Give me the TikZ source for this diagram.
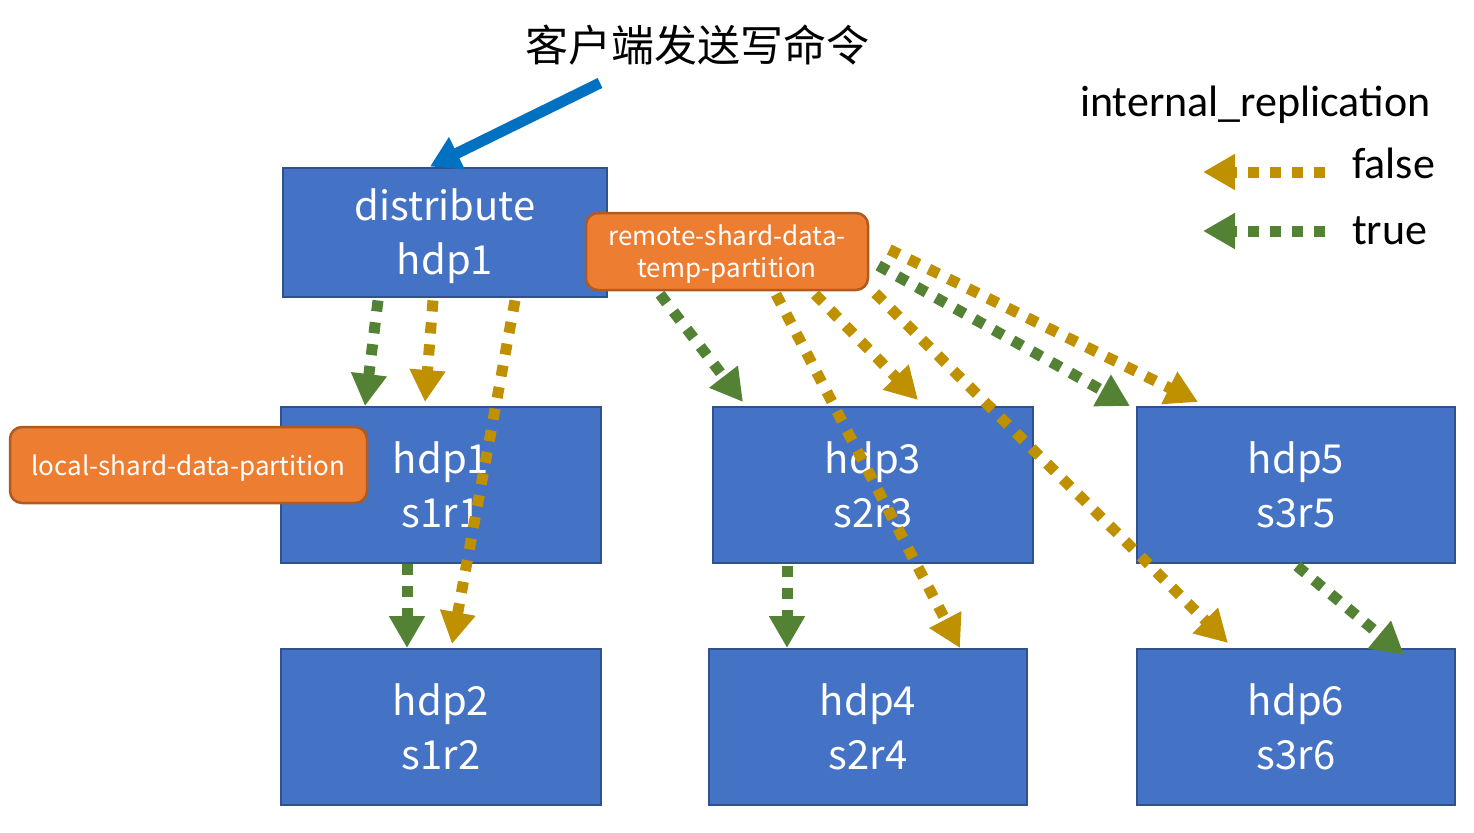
\documentclass[tikz,border=0pt]{standalone}
\usepackage{fontspec}
\setmainfont{Carlito}
\newfontfamily\cjk{Noto Sans CJK SC}
\usetikzlibrary{arrows.meta}
\definecolor{boxblue}{HTML}{4472C4}
\definecolor{boxedge}{HTML}{2F528F}
\definecolor{tagorange}{HTML}{ED7D31}
\definecolor{tagedge}{HTML}{AE5A21}
\definecolor{gold}{HTML}{BF9000}
\definecolor{leaf}{HTML}{548235}
\definecolor{cmdblue}{HTML}{0070C0}

\begin{document}
\begin{tikzpicture}[x=1pt,y=-1pt,
    host/.style={draw=boxedge,line width=2pt,fill=boxblue,text=white,align=center,
                 minimum width=320pt,minimum height=156pt,text depth=0pt,
                 font=\cjk\fontsize{40}{54}\selectfont},
    tag/.style={draw=tagedge,line width=2.5pt,fill=tagorange,text=white,align=center,
                rounded corners=12pt,text depth=0pt,font=\cjk\fontsize{26}{32}\selectfont},
    legend/.style={font=\fontsize{44}{50}\selectfont,inner sep=0pt},
    rep/.style={-{Triangle[length=32pt,width=34pt]},line width=11pt,
                dash pattern=on 11pt off 11pt},
    tr/.style={rep,leaf},
    fl/.style={rep,gold},
    cmdarr/.style={-{Triangle[length=30pt,width=34pt]},line width=11pt,cmdblue}]
    \useasboundingbox (0,0) rectangle (1474,832);

    \node[font=\cjk\fontsize{43}{50}\selectfont] (cmd) at (697,45) {客户端发送写命令};
    \coordinate (cmdfrom) at (600,83);

    \node[host,minimum width=324pt,minimum height=129pt] (dist) at (445,232) {distribute\\hdp1};
    \node[host] (s11) at (441,485) {hdp1\\s1r1};
    \node[host] (s12) at (441,727) {hdp2\\s1r2};
    \node[host] (s23) at (873,485) {hdp3\\s2r3};
    \node[host,minimum width=318pt] (s24) at (868,727) {hdp4\\s2r4};
    \node[host,minimum width=318pt] (s35) at (1296,485) {hdp5\\s3r5};
    \node[host,minimum width=318pt] (s36) at (1296,727) {hdp6\\s3r6};

    \node[tag,minimum width=282pt,minimum height=77pt] (remote) at (727,251.5) {remote-shard-data-\\temp-partition};
    \node[tag,minimum width=357pt,minimum height=76pt] (local) at (188.5,465) {local-shard-data-partition};

    \node[legend,anchor=west] (intrep) at (1080,105) {internal\_replication};
    \node[legend,anchor=west] (lgf) at (1352,163) {false};
    \node[legend,anchor=west] (lgt) at (1352,231) {true};
    \coordinate (lgfend) at (1203,172);
    \coordinate (lgtend) at (1203,231);

    \draw[cmdarr] (cmdfrom) -- ([shift={(-15,0)}]dist.north);

    \draw[tr] ([shift={(-67,3)}]dist.south) -- ([shift={(-76,0)}]s11.north);
    \draw[fl] ([shift={(-12,3)}]dist.south) -- ([shift={(-16,-4)}]s11.north);
    \draw[fl] ([shift={(70,3)}]dist.south) -- ([shift={(11,-4)}]s12.north);
    \draw[tr] ([shift={(-34,0)}]s11.south) -- ([shift={(-34,0)}]s12.north);

    \draw[tr] ([shift={(-67,3)}]remote.south) -- ([shift={(-130,-4)}]s23.north);
    \draw[fl] ([shift={(49,3)}]remote.south) -- ([shift={(92,0)}]s24.north);
    \draw[fl] ([shift={(88,3)}]remote.south) -- ([shift={(45,-6)}]s23.north);
    \draw[fl] ([shift={(6,2)}]remote.south east) -- ([shift={(-68,-5)}]s36.north);
    \draw[tr] ([shift={(9,14)}]remote.east) -- ([shift={(-166,0)}]s35.north);
    \draw[fl] ([shift={(20,-2)}]remote.east) -- ([shift={(-98,-4)}]s35.north);

    \draw[tr] ([shift={(-86,2)}]s23.south) -- ([shift={(-81,0)}]s24.north);
    \draw[tr] ([shift={(1,2)}]s35.south) -- ([shift={(108,7)}]s36.north);

    \draw[fl] ([shift={(-27,9)}]lgf.west) -- (lgfend);
    \draw[tr] ([shift={(-27,0)}]lgt.west) -- (lgtend);
  \end{tikzpicture}
\end{document}
